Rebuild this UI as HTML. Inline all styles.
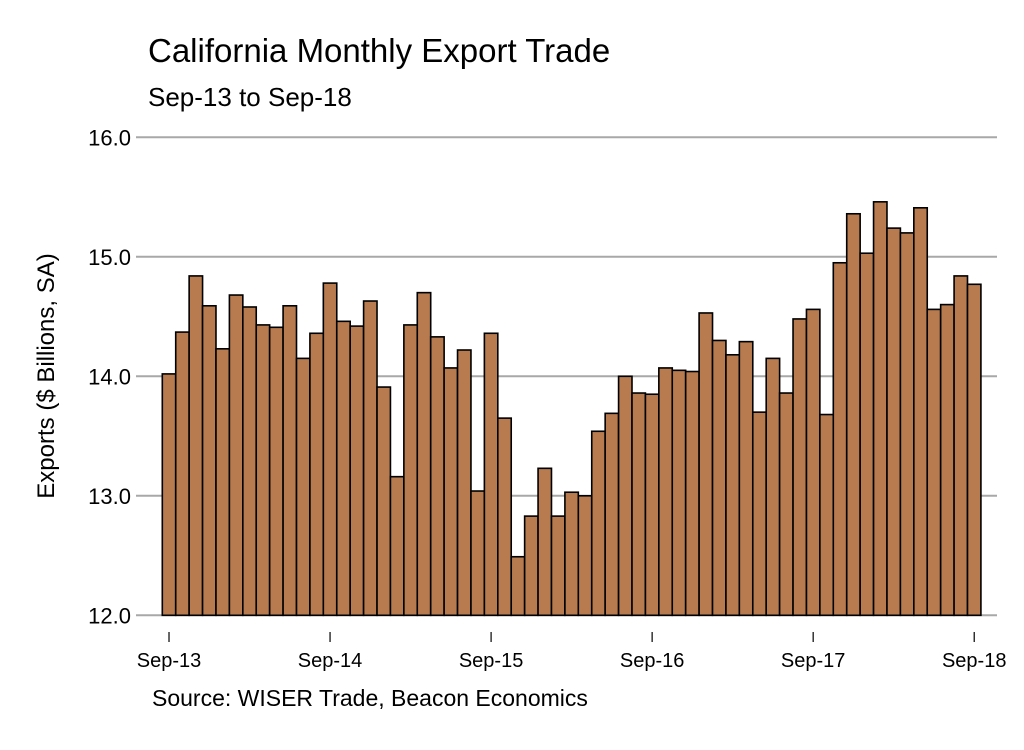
<!DOCTYPE html>
<html><head><meta charset="utf-8"><style>
body{margin:0;background:#fff;}
svg text{font-family:"Liberation Sans",sans-serif;fill:#000;}
</style></head><body>
<svg width="1024" height="745" viewBox="0 0 1024 745">
<text x="148" y="62" font-size="33">California Monthly Export Trade</text>
<text x="148" y="106" font-size="26">Sep-13 to Sep-18</text>
<text transform="translate(54,376) rotate(-90)" text-anchor="middle" font-size="24">Exports ($ Billions, SA)</text>
<text x="152" y="706" font-size="23">Source: WISER Trade, Beacon Economics</text>
<g id="grid"></g><g id="bars"></g><g id="xaxis"></g>
</svg>
<script>
const values=[14.02,14.37,14.84,14.59,14.23,14.68,14.58,14.43,14.41,14.59,14.15,14.36,
14.78,14.46,14.42,14.63,13.91,13.16,14.43,14.70,14.33,14.07,14.22,13.04,
14.36,13.65,12.49,12.83,13.23,12.83,13.03,13.00,13.54,13.69,14.00,13.86,
13.85,14.07,14.05,14.04,14.53,14.30,14.18,14.29,13.70,14.15,13.86,14.48,
14.56,13.68,14.95,15.36,15.03,15.46,15.24,15.20,15.41,14.56,14.60,14.84,14.77];
const yTicks=[12,13,14,15,16];
const yTickLabels=["12.0","13.0","14.0","15.0","16.0"];
const xTickIdx=[0,12,24,36,48,60];
const xTickLabels=["Sep-13","Sep-14","Sep-15","Sep-16","Sep-17","Sep-18"];
const NS="http://www.w3.org/2000/svg";
const x0=162.3,bw=13.42,yMin=12,yMax=16,yTop=137.3,yBot=615.3;
const y=v=>yBot-(v-yMin)/(yMax-yMin)*(yBot-yTop);
const xC=i=>x0+bw*(i+0.5);
function mk(t,a,p){const e=document.createElementNS(NS,t);for(const k in a)e.setAttribute(k,a[k]);p.appendChild(e);return e;}
const grid=document.getElementById('grid');
yTicks.forEach((v,i)=>{
 const l=mk('line',{x1:136,x2:997,y1:y(v),y2:y(v),stroke:'#a8a8a8','stroke-width':2},grid);
 
 
 const t=mk('text',{x:131,y:y(v)+8,'text-anchor':'end','font-size':22},grid);
 t.textContent=yTickLabels[i];
 
 
});
const bars=document.getElementById('bars');
values.forEach((v,i)=>{
 const r=mk('rect',{x:x0+bw*i,y:y(v),width:bw,height:yBot-y(v),fill:'#b87b4f',stroke:'#000','stroke-width':1.6},bars);
 
 
});
const xa=document.getElementById('xaxis');
xTickIdx.forEach((idx,i)=>{
 const l=mk('line',{x1:xC(idx),x2:xC(idx),y1:632,y2:642,stroke:'#000','stroke-width':1.2},xa);
 
 
 const t=mk('text',{x:xC(idx),y:667,'text-anchor':'middle','font-size':20},xa);
 t.textContent=xTickLabels[i];
 
 
});
</script>
</body></html>
